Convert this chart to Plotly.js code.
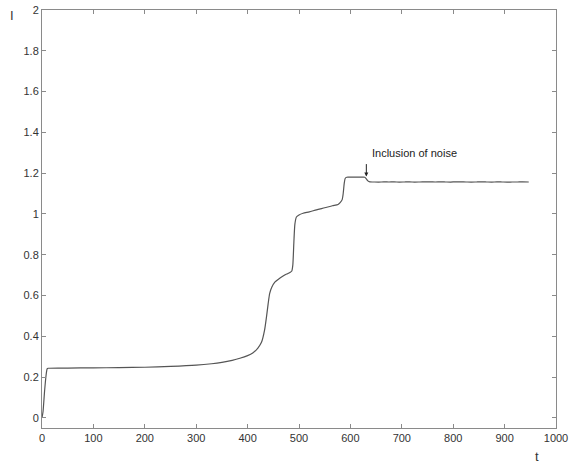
<!DOCTYPE html>
<html>
<head>
<meta charset="utf-8">
<script src="https://cdn.plot.ly/plotly-3.0.1.min.js"></script>
<style>html,body{margin:0;padding:0;background:#fff;}#chart{width:572px;height:463px;}</style>
</head>
<body>
<div id="chart"></div>
<script>
var tValues = [0, 2, 5, 8, 10, 12, 50, 100, 150, 200, 250, 300, 330, 350, 370, 385, 400, 410, 420, 427, 433, 437, 440, 443, 447, 453, 460, 469, 476, 483, 486, 488, 490, 492, 495, 500, 508, 520, 534, 550, 565, 576, 580, 584, 586, 588, 590, 593, 600, 610, 620, 628, 631, 634, 638, 645, 655, 665, 675, 685, 695, 705, 715, 725, 735, 745, 755, 765, 775, 785, 795, 805, 815, 825, 835, 845, 855, 865, 875, 885, 895, 905, 915, 925, 935, 947];
var iValues = [0, 0.03, 0.13, 0.21, 0.24, 0.243, 0.244, 0.245, 0.246, 0.248, 0.252, 0.258, 0.265, 0.272, 0.282, 0.292, 0.305, 0.318, 0.342, 0.37, 0.43, 0.5, 0.56, 0.61, 0.64, 0.665, 0.68, 0.695, 0.705, 0.714, 0.72, 0.75, 0.86, 0.95, 0.985, 0.995, 1.003, 1.01, 1.02, 1.03, 1.04, 1.046, 1.055, 1.07, 1.1, 1.15, 1.175, 1.18, 1.18, 1.18, 1.18, 1.18, 1.172, 1.162, 1.157, 1.1565, 1.156, 1.157, 1.1565, 1.157, 1.156, 1.1565, 1.157, 1.156, 1.1565, 1.157, 1.1575, 1.1565, 1.157, 1.1565, 1.156, 1.1575, 1.157, 1.1565, 1.156, 1.1565, 1.157, 1.1565, 1.156, 1.157, 1.1565, 1.156, 1.1565, 1.1565, 1.157, 1.1565];
var xTicks = [0, 100, 200, 300, 400, 500, 600, 700, 800, 900, 1000];
var yTicks = [0, 0.2, 0.4, 0.6, 0.8, 1, 1.2, 1.4, 1.6, 1.8, 2];
var yTickLabels = ['0', '0.2', '0.4', '0.6', '0.8', '1', '1.2', '1.4', '1.6', '1.8', '2'];
var noteText = 'Inclusion of noise';
var noteT = 631;
var noteI = 1.183;

var axisCommon = {
  showline: true, linecolor: '#8a8a8a', linewidth: 1, mirror: 'ticks',
  ticks: 'inside', ticklen: 4, tickcolor: '#8a8a8a', showgrid: false, zeroline: false,
  tickfont: {family: 'Liberation Sans, Arial, sans-serif', size: 11, color: '#333'}
};

var trace = {
  x: tValues, y: iValues, type: 'scatter', mode: 'lines',
  line: {color: '#555555', width: 1.2, shape: 'spline', smoothing: 0.6},
  hoverinfo: 'skip'
};

var layout = {
  width: 572, height: 463,
  margin: {l: 42, r: 16, t: 10, b: 35, pad: 0},
  paper_bgcolor: '#fff', plot_bgcolor: '#fff',
  showlegend: false,
  xaxis: Object.assign({}, axisCommon, {range: [0, 1000], tickvals: xTicks, ticktext: xTicks.map(String)}),
  yaxis: Object.assign({}, axisCommon, {range: [-0.05, 2], tickvals: yTicks, ticktext: yTickLabels}),
  annotations: [
    {xref: 'x', yref: 'y', x: noteT, y: noteI, ax: 0, ay: -14, text: '', showarrow: true,
     arrowhead: 2, arrowsize: 0.8, arrowwidth: 1, arrowcolor: '#222'},
    {xref: 'x', yref: 'y', x: noteT + 8, y: noteI + 0.115, text: noteText, showarrow: false,
     xanchor: 'left', yanchor: 'middle', font: {family: 'Liberation Sans, Arial, sans-serif', size: 11, color: '#222'}},
    {xref: 'paper', yref: 'paper', x: -0.058, y: 0.988, text: 'I', showarrow: false,
     xanchor: 'center', yanchor: 'middle', font: {family: 'Liberation Sans, Arial, sans-serif', size: 13, color: '#333'}},
    {xref: 'paper', yref: 'paper', x: 0.963, y: -0.069, text: 't', showarrow: false,
     xanchor: 'center', yanchor: 'middle', font: {family: 'Liberation Sans, Arial, sans-serif', size: 13, color: '#333'}}
  ]
};

Plotly.newPlot('chart', [trace], layout, {displayModeBar: false, staticPlot: true});
</script>
</body>
</html>
